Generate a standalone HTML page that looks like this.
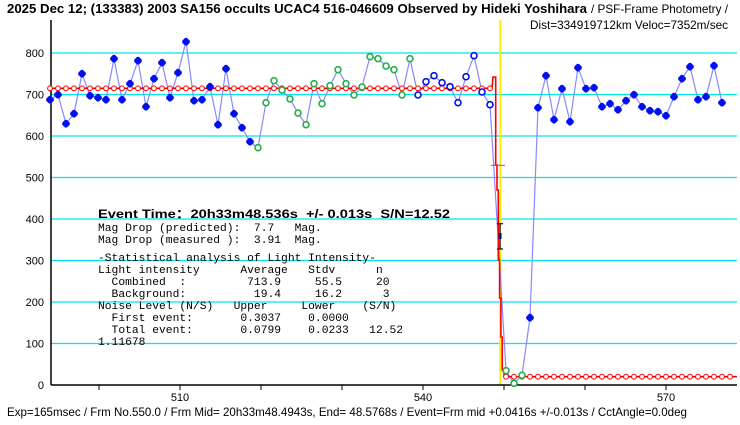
<!DOCTYPE html>
<html><head><meta charset="utf-8"><style>
html,body{margin:0;padding:0;background:#fff;}
svg{display:block;}
#tb text{white-space:pre;}
</style></head><body>
<svg id="s" width="740" height="425" xmlns="http://www.w3.org/2000/svg" font-family="Liberation Sans, sans-serif">
<rect width="740" height="425" fill="#fff"/>
<g id="grid" stroke="#00e5ee" stroke-width="1.3"></g>
<line x1="500.3" y1="20" x2="500.3" y2="385" stroke="#ffee00" stroke-width="2"/>
<line x1="51" y1="20" x2="51" y2="385" stroke="#000" stroke-width="1.5"/>
<line x1="51" y1="385" x2="737" y2="385" stroke="#000" stroke-width="1.5"/>
<g id="ticks" stroke="#000" stroke-width="1"></g>
<g id="ylab" font-size="11" text-anchor="end" fill="#000"></g>
<g font-size="11" text-anchor="middle" fill="#000">
<text x="180" y="401">510</text><text x="423" y="401">540</text><text x="666" y="401">570</text>
</g>
<polyline id="dl" fill="none" stroke="#8888ff" stroke-width="1.2"/>
<polyline id="rl" fill="none" stroke="#ff0000" stroke-width="1.6"/>
<g id="rc"></g>
<g id="mk"></g>
<line x1="491" y1="165.3" x2="505" y2="165.3" stroke="#ff00ff" stroke-width="1"/>
<g stroke="#000060" stroke-width="1.2"><line x1="500" y1="223.7" x2="500" y2="249"/><line x1="497" y1="223.7" x2="503" y2="223.7"/><line x1="497" y1="249" x2="503" y2="249"/></g>
<rect x="498.5" y="233" width="3" height="6" fill="#000060"/>
<text x="7" y="13" font-size="12.5" font-weight="bold" textLength="580" lengthAdjust="spacingAndGlyphs">2025 Dec 12; (133383) 2003 SA156 occults UCAC4 516-046609 Observed by Hideki Yoshihara</text>
<text x="591" y="13" font-size="12" textLength="137" lengthAdjust="spacingAndGlyphs">/ PSF-Frame Photometry /</text>
<text x="728" y="29" font-size="12" text-anchor="end" textLength="198" lengthAdjust="spacingAndGlyphs">Dist=334919712km Veloc=7352m/sec</text>
<text x="7" y="416" font-size="12" textLength="680" lengthAdjust="spacingAndGlyphs">Exp=165msec / Frm No.550.0 / Frm Mid= 20h33m48.4943s,  End= 48.5768s / Event=Frm mid +0.0416s +/-0.013s / CctAngle=0.0deg</text>
<text x="98" y="218" font-size="12" font-weight="bold" textLength="352" lengthAdjust="spacingAndGlyphs" style="white-space:pre">Event Time：20h33m48.536s  +/- 0.013s  S/N=12.52</text>
<g id="tb" font-family="Liberation Mono, monospace" font-size="11.3" fill="#000"></g>
</svg>
<script>
var NS="http://www.w3.org/2000/svg";
function el(p,t,a,txt){var e=document.createElementNS(NS,t);for(var k in a)e.setAttribute(k,a[k]);if(txt!=null)e.textContent=txt;document.getElementById(p).appendChild(e);return e;}
for(var k=0;k<=8;k++){var y=385-41.5*k;if(k>0)el('grid','line',{x1:51,x2:737,y1:y,y2:y});el('ylab','text',{x:44,y:y+4},String(k*100));}
[99,180,261,342,423,504,585,666].forEach(function(x){el('ticks','line',{x1:x,x2:x,y1:385,y2:390});});
var F=[[50,99.7],[58,94.7],[66,123.7],[74,113.7],[82,73.7],[90,95.7],[98,97.7],[106,99.7],[114,58.7],[122,99.7],[130,83.7],[138,60.7],[146,106.7],[154,78.7],[162,62.7],[170,97.7],[178,72.7],[186,41.7],[194,100.7],[202,99.7],[210,86.7],[218,124.7],[226,68.7],[234,113.7],[242,127.7],[250,141.7]];
var G=[[258,147.7],[266,102.7],[274,80.7],[282,90],[290,99],[298,113],[306,124.7],[314,83.7],[322,103.7],[330,85.7],[338,69.7],[346,83.7],[354,95],[362,87],[370,56.7],[378,58.7],[386,66],[394,69.7],[402,95],[410,58.7]];
var B=[[418,95],[426,81.7],[434,75.7],[442,82.7],[450,86.7],[458,102.7],[466,76.7],[474,55.7],[482,92],[490,104.7]];
var G2=[[506,370.7],[514,383.3],[522,375.3]];
var F2=[[530,317.7],[538,107.7],[546,75.7],[554,119.7],[562,88.7],[570,121.7],[578,67.7],[586,88.7],[594,87.7],[602,106.7],[610,103.7],[618,109.7],[626,100.7],[634,94.7],[642,106.7],[650,110.7],[658,111.7],[666,115.7],[674,96.7],[682,78.7],[690,66.7],[698,99.7],[706,96.7],[714,65.7],[722,102.7]];
var all=F.concat(G,B,[[498,236]],G2,F2);
document.getElementById('dl').setAttribute('points',all.map(function(p){return p.join(',')}).join(' '));
document.getElementById('rl').setAttribute('points','51,88.3 492,88.3 493,77 495.7,77 495.7,165 497,165 497,190 498.3,190 498.3,260 499.6,260 499.6,298 500.9,298 500.9,337 502.2,337 502.2,370 504,370 504,375 507,375 507,376.7 737,376.7');
for(var x=50;x<=730;x+=8){if(x>490&&x<506)continue;el('rc','circle',{cx:x,cy:x<500?88.3:376.7,r:2.4,fill:'#fff',stroke:'#ff0000','stroke-width':1});}
function filled(p){var x=p[0],y=p[1];el('mk','path',{d:'M'+(x-1)+','+(y-3.8)+'h2l2.8,2.8v2l-2.8,2.8h-2l-2.8,-2.8v-2z',fill:'#0010ee'});}
function open(p,c){el('mk','circle',{cx:p[0],cy:p[1],r:3,fill:'#fff',stroke:c,'stroke-width':1.6});}
F.concat(F2).forEach(filled);
G.concat(G2).forEach(function(p){open(p,'#22b04a')});
B.forEach(function(p){open(p,'#0010ee')});
var L=[[231,"Mag Drop (predicted):  7.7   Mag."],[243,"Mag Drop (measured ):  3.91  Mag."],[261,"-Statistical analysis of Light Intensity-"],[273,"Light intensity      Average   Stdv      n"],[285,"  Combined  :         713.9     55.5     20"],[297,"  Background:          19.4     16.2      3"],[309,"Noise Level (N/S)   Upper     Lower    (S/N)"],[321,"  First event:       0.3037    0.0000"],[333,"  Total event:       0.0799    0.0233   12.52"],[345,"1.11678"]];
L.forEach(function(l){el('tb','text',{x:98,y:l[0]},l[1]);});
</script>
</body></html>
